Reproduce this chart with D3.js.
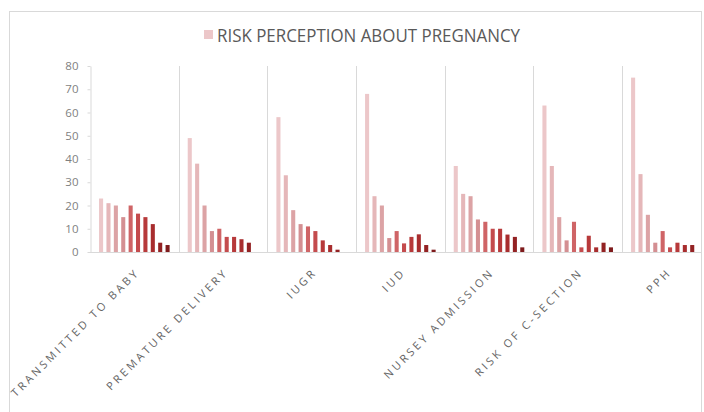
<!DOCTYPE html>
<html>
<head>
<meta charset="utf-8">
<script src="https://cdn.jsdelivr.net/npm/d3@7"></script>
<style>
  html, body { margin: 0; padding: 0; background: #fff; }
  svg { display: block; }
</style>
</head>
<body>
<svg id="chart" width="704" height="412"></svg>
<script>
// Outcome groups along the x axis
const categories = [
  "TRANSMITTED TO BABY",
  "PREMATURE DELIVERY",
  "IUGR",
  "IUD",
  "NURSEY ADMISSION",
  "RISK OF C-SECTION",
  "PPH"
];

// Ten response levels drawn inside each group, lightest to darkest
const levels = ["L1", "L2", "L3", "L4", "L5", "L6", "L7", "L8", "L9", "L10"];

// Percentages per outcome, one value per level
const transmittedToBaby = [23, 21, 20, 15, 20, 16.5, 15, 12, 4, 3];
const prematureDelivery = [49, 38, 20, 9, 10, 6.5, 6.5, 5.5, 4, 0];
const iugr              = [58, 33, 18, 12, 11, 9, 5, 3, 1, 0];
const iud               = [68, 24, 20, 6, 9, 3.7, 6.5, 7.6, 3, 1];
const nurseyAdmission   = [37, 25, 24, 14, 13, 10, 10, 7.5, 6.5, 2];
const riskOfCSection    = [63, 37, 15, 5, 13, 2, 7, 2, 4, 2];
const pph               = [75, 33.5, 16, 4, 9, 2, 4, 3, 3, 0];

const seriesValues = [
  transmittedToBaby, prematureDelivery, iugr, iud,
  nurseyAdmission, riskOfCSection, pph
];

const yTicks = [0, 10, 20, 30, 40, 50, 60, 70, 80];

const legendLabel = "RISK PERCEPTION ABOUT PREGNANCY";

// Level palette
const palette = ["#ecc7c9", "#e5b7b9", "#dca3a5", "#d48f92", "#cf6466",
                 "#c44b4d", "#b7393a", "#a82d2e", "#932223", "#7e1b1c"];

const rows = categories.map((c, i) => ({
  category: c,
  values: levels.map((l, j) => ({ level: l, value: seriesValues[i][j] }))
}));

const svg = d3.select("#chart");
const gridColor = "#d9d9d9";

// Chart frame
svg.append("rect")
  .attr("x", 9.5).attr("y", 11.5)
  .attr("width", 692).attr("height", 420)
  .attr("fill", "#fff").attr("stroke", gridColor).attr("stroke-width", 1);

svg.append("clipPath").attr("id", "frameClip")
  .append("rect").attr("x", 10).attr("y", 12).attr("width", 691.5).attr("height", 420);

const plot = { left: 90, right: 710.7, top: 66, bottom: 252 };

const x0 = d3.scaleBand()
  .domain(categories)
  .range([plot.left, plot.right])
  .paddingInner(0).paddingOuter(0);

const x1 = d3.scaleBand()
  .domain(levels)
  .range([0, x0.bandwidth()])
  .paddingInner(0.45)
  .paddingOuter(1.225);

const y = d3.scaleLinear().domain([0, 80]).range([plot.bottom, plot.top]);

const color = d3.scaleOrdinal().domain(levels).range(palette);

const inner = svg.append("g").attr("clip-path", "url(#frameClip)");

// Group separators
inner.append("g")
  .selectAll("line")
  .data(categories.slice(1))
  .join("line")
  .attr("x1", d => Math.round(x0(d)) + 0.5)
  .attr("x2", d => Math.round(x0(d)) + 0.5)
  .attr("y1", plot.top)
  .attr("y2", plot.bottom + 1)
  .attr("stroke", gridColor)
  .attr("stroke-width", 1);

// Bars
inner.append("g")
  .selectAll("g")
  .data(rows)
  .join("g")
  .attr("transform", d => `translate(${x0(d.category)},0)`)
  .selectAll("rect")
  .data(d => d.values)
  .join("rect")
  .attr("x", d => x1(d.level))
  .attr("width", x1.bandwidth())
  .attr("y", d => y(d.value))
  .attr("height", d => y(0) - y(d.value))
  .attr("fill", d => color(d.level));

// Baseline
inner.append("line")
  .attr("x1", plot.left).attr("x2", plot.right)
  .attr("y1", Math.round(y(0)) + 0.5).attr("y2", Math.round(y(0)) + 0.5)
  .attr("stroke", gridColor).attr("stroke-width", 1);

// Y axis
const yAxis = svg.append("g")
  .attr("transform", `translate(${plot.left + 0.5},0)`)
  .call(d3.axisLeft(y).tickValues(yTicks).tickSize(3).tickPadding(9).tickSizeOuter(0));
yAxis.select(".domain").attr("stroke", gridColor);
yAxis.selectAll(".tick line").attr("stroke", gridColor);
yAxis.selectAll(".tick text")
  .attr("fill", "#7f7f7f")
  .style("font-family", "'Open Sans', sans-serif")
  .style("font-size", "11.5px");

// Category labels, rotated
svg.append("g")
  .selectAll("text")
  .data(categories)
  .join("text")
  .attr("transform", d => `translate(${x0(d) + x0.bandwidth() / 2 + 6},${plot.bottom + 21}) rotate(-45)`)
  .attr("text-anchor", "end")
  .attr("fill", "#666666")
  .style("font-family", "'Open Sans', sans-serif")
  .style("font-size", "11px")
  .style("letter-spacing", "2.9px")
  .text(d => d);

// Legend
const legend = svg.append("g");
legend.append("rect")
  .attr("x", 204).attr("y", 30).attr("width", 9).attr("height", 9)
  .attr("fill", palette[0]);
legend.append("text")
  .attr("x", 217).attr("y", 41.5)
  .attr("fill", "#595959")
  .attr("textLength", 303)
  .attr("lengthAdjust", "spacingAndGlyphs")
  .style("font-family", "'Open Sans', sans-serif")
  .style("font-size", "18px")
  .text(legendLabel);
</script>
</body>
</html>
